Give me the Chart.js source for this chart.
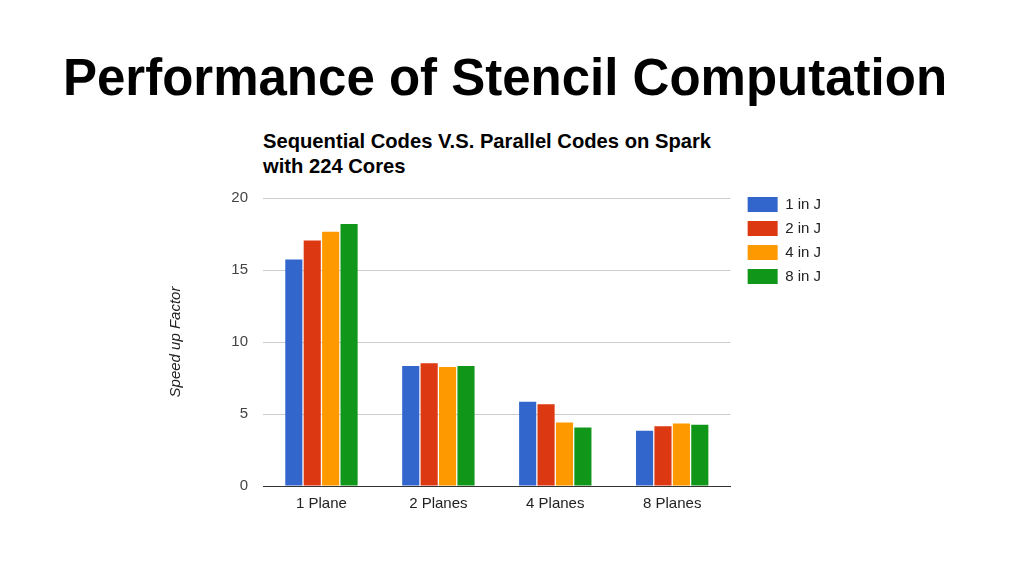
<!DOCTYPE html>
<html>
<head>
<meta charset="utf-8">
<script src="https://cdn.jsdelivr.net/npm/chart.js@4"></script>
<style>
html,body{margin:0;padding:0;background:#fff;}
#wrap{position:relative;width:1024px;height:576px;overflow:hidden;}
#pt{position:absolute;left:0;width:1010px;top:48px;text-align:center;font-family:"Liberation Sans",Arial,sans-serif;font-weight:bold;font-size:51px;color:#000;line-height:60px;white-space:nowrap;}
#ct{position:absolute;left:263px;top:129px;font-family:"Liberation Sans",Arial,sans-serif;font-weight:bold;font-size:20.2px;color:#000;line-height:25px;white-space:nowrap;}
canvas{position:absolute;left:0;top:0;}
</style>
</head>
<body>
<div id="wrap">
<div id="pt">Performance of Stencil Computation</div>
<div id="ct">Sequential Codes V.S. Parallel Codes on Spark<br>with 224 Cores</div>
<canvas id="c" width="1024" height="576"></canvas>
</div>
<script>
const categories = ["1 Plane", "2 Planes", "4 Planes", "8 Planes"];
const seriesNames = ["1 in J", "2 in J", "4 in J", "8 in J"];
const s1inJ = [15.73, 8.34, 5.85, 3.83];
const s2inJ = [17.05, 8.52, 5.67, 4.15];
const s4inJ = [17.65, 8.27, 4.41, 4.34];
const s8inJ = [18.19, 8.34, 4.06, 4.25];
const yTicks = [0, 5, 10, 15, 20];
const colors = ["#3366cc", "#dc3912", "#ff9900", "#109618"];
const seriesValues = [s1inJ, s2inJ, s4inJ, s8inJ];

const font = "'Liberation Sans', Arial, sans-serif";
const legendShift = {
  id: 'legendShift',
  beforeDraw(chart) {
    const lg = chart.legend;
    if (lg) { lg.left = chart.chartArea.right + 8; lg.top = chart.chartArea.top - 10; }
  }
};
new Chart(document.getElementById('c'), {
  type: 'bar',
  data: {
    labels: categories,
    datasets: seriesNames.map((n, i) => ({
      label: n,
      data: seriesValues[i],
      backgroundColor: colors[i],
      borderWidth: 0,
      categoryPercentage: 0.63,
      barPercentage: 0.93
    }))
  },
  options: {
    responsive: false,
    animation: false,
    devicePixelRatio: 1,
    layout: { padding: { left: 165, right: 201, top: 198, bottom: 62 } },
    plugins: {
      legend: {
        position: 'right',
        align: 'start',
        labels: {
          boxWidth: 30, boxHeight: 15, padding: 9,
          color: '#222', font: { family: font, size: 15 }
        }
      },
      tooltip: { enabled: false }
    },
    scales: {
      x: {
        grid: { display: false },
        border: { display: true, color: '#333', width: 1 },
        ticks: { color: '#222', font: { family: font, size: 15 }, padding: 1 }
      },
      y: {
        min: 0, max: 20,
        afterBuildTicks: (s) => { s.ticks = yTicks.map(v => ({ value: v })); },
        afterFit: (s) => { s.width = 98; },
        grid: { color: '#cccccc', drawTicks: false },
        border: { display: false },
        ticks: { color: '#444', font: { family: font, size: 15 }, padding: 15 },
        title: { display: true, text: 'Speed up Factor', color: '#222',
                 font: { family: font, size: 15, style: 'italic' }, padding: { top: 2, bottom: 4 } }
      }
    }
  },
  plugins: [legendShift]
});
</script>
</body>
</html>
